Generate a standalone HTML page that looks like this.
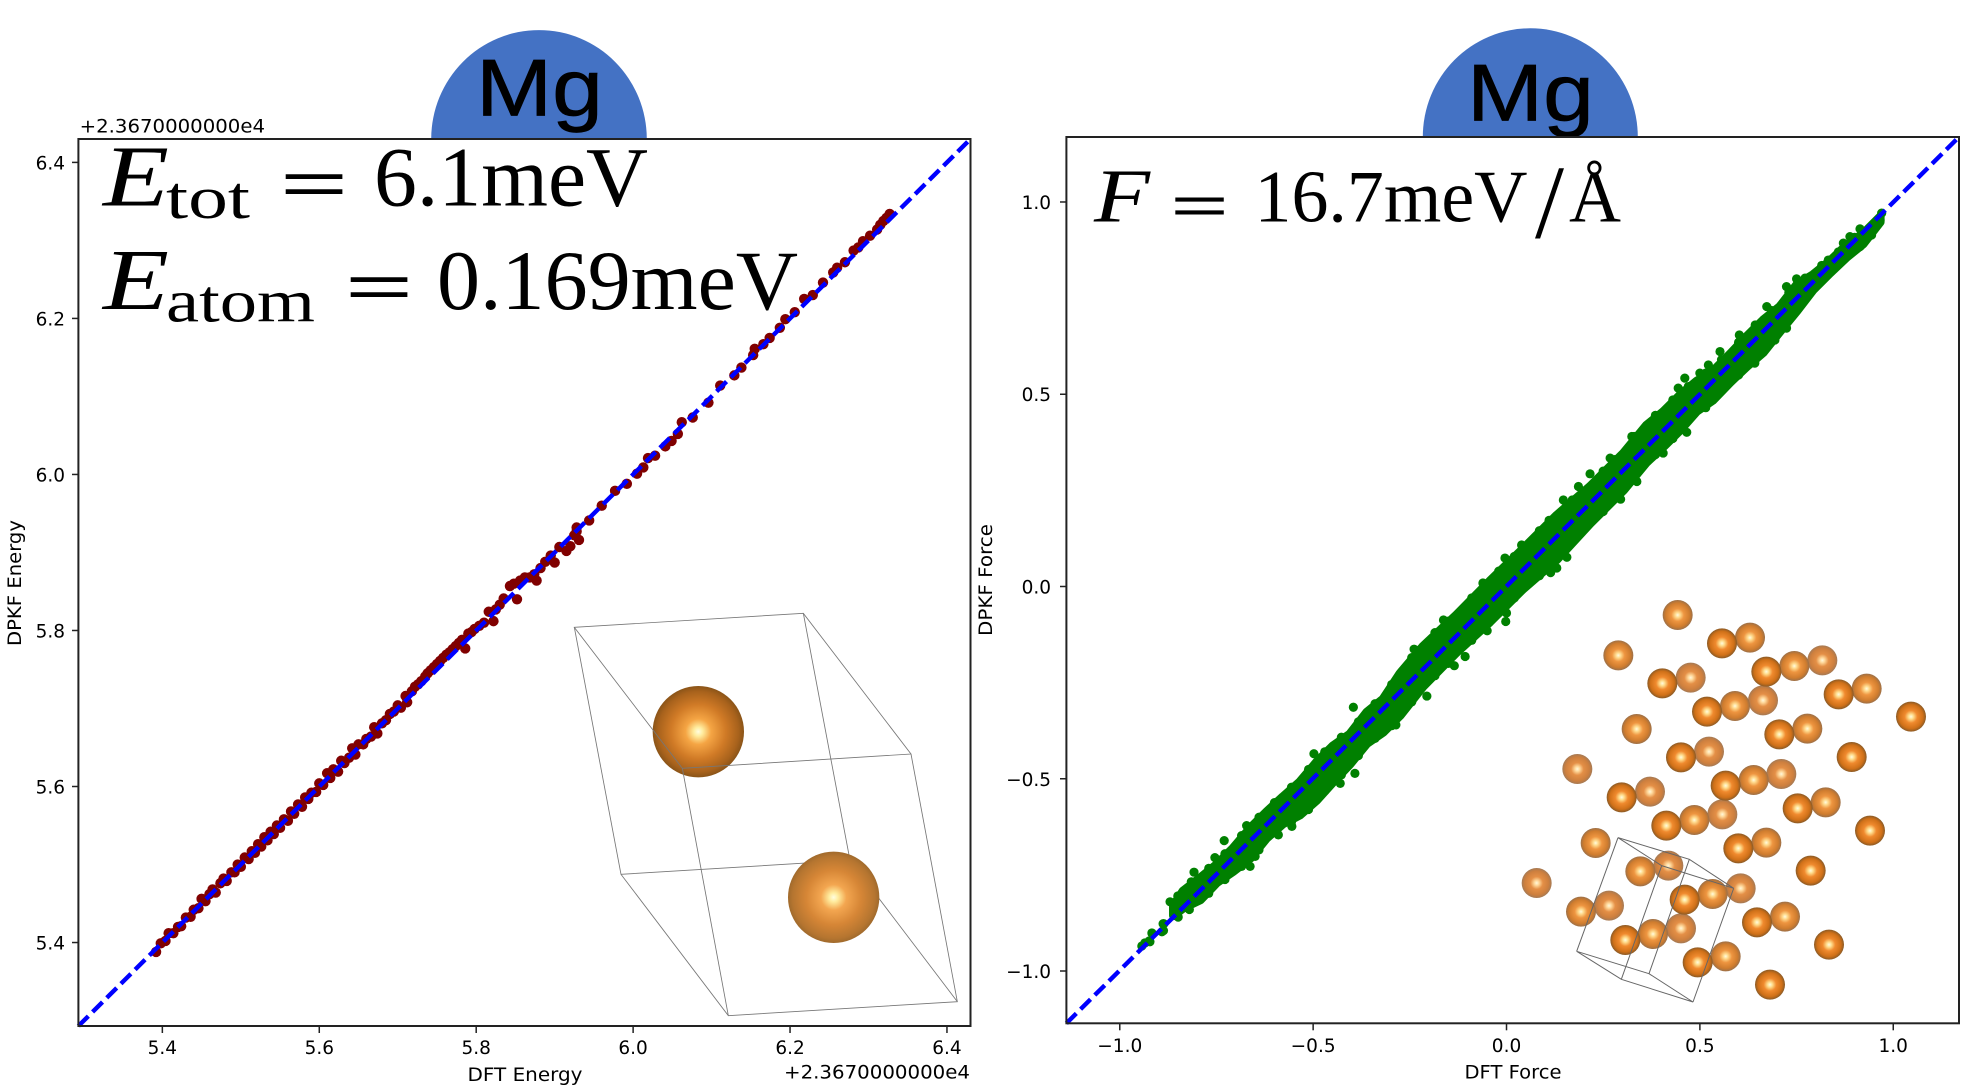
<!DOCTYPE html>
<html lang="en">
<head>
<meta charset="utf-8">
<title>Mg DPKF parity plots</title>
<style>
html,body{margin:0;padding:0;background:#fff;}
svg{display:block;}
.tick{font-family:"DejaVu Sans",sans-serif;font-size:18.5px;fill:#000;}
.math{font-family:"Liberation Serif",serif;fill:#000;}
.eq{stroke:#000;stroke-width:.9;}
.mg{font-family:"Liberation Sans",sans-serif;font-size:81px;fill:#000;stroke:#000;stroke-width:.7;}
</style>
</head>
<body>
<svg id="figure" xmlns="http://www.w3.org/2000/svg" width="1966" height="1087" viewBox="0 0 1966 1087">
<defs>
<radialGradient id="big1"><stop offset="0" stop-color="#fffde0"/><stop offset=".1" stop-color="#ffec9e"/><stop offset=".28" stop-color="#f5a544"/><stop offset=".6" stop-color="#d07a26"/><stop offset=".88" stop-color="#a8621c"/><stop offset="1" stop-color="#8a5418"/></radialGradient>
<radialGradient id="big2"><stop offset="0" stop-color="#fffde0"/><stop offset=".1" stop-color="#ffec9e"/><stop offset=".28" stop-color="#f3a650"/><stop offset=".6" stop-color="#d68636"/><stop offset=".9" stop-color="#b57530"/><stop offset="1" stop-color="#a06a2c"/></radialGradient>
<radialGradient id="dark"><stop offset="0" stop-color="#fffbe0"/><stop offset=".16" stop-color="#ffdf90"/><stop offset=".42" stop-color="#f08a2e"/><stop offset=".8" stop-color="#cf7018"/><stop offset="1" stop-color="#8a5a26"/></radialGradient>
<radialGradient id="mid"><stop offset="0" stop-color="#fffbe0"/><stop offset=".16" stop-color="#ffdc90"/><stop offset=".42" stop-color="#ee9540"/><stop offset=".8" stop-color="#cf7c2e"/><stop offset="1" stop-color="#9c7048"/></radialGradient>
<radialGradient id="light"><stop offset="0" stop-color="#fff8dc"/><stop offset=".16" stop-color="#ffd99c"/><stop offset=".42" stop-color="#e48f46"/><stop offset=".8" stop-color="#cd7f3e"/><stop offset="1" stop-color="#a57a55"/></radialGradient>
</defs>

<rect width="1966" height="1087" fill="#fff"/>

<!-- Mg badges -->
<path d="M431.2 139A107.8 109 0 0 1 646.8 139Z" fill="#4472c4"/>
<text class="mg" x="476" y="115.7" textLength="127" lengthAdjust="spacingAndGlyphs">Mg</text>
<path d="M1422.8 137A107.5 108.7 0 0 1 1637.8 137Z" fill="#4472c4"/>
<text class="mg" x="1467" y="120.7" textLength="127" lengthAdjust="spacingAndGlyphs">Mg</text>

<!-- Left axes -->
<g id="energy-chart">
<rect x="78.4" y="139" width="892.1" height="887" fill="#fff"/>
<g id="energy-inset" transform="translate(550 590) scale(.33333)" fill="none" stroke="#777" stroke-width="2.6">
<path d="M760 70L900 811M213 853L900 811M900 811L1222 1235"/>
<circle cx="445" cy="425" r="137" fill="url(#big1)" stroke="none"/>
<circle cx="851" cy="922" r="137" fill="url(#big2)" stroke="none"/>
<path d="M73 112L760 70L1083 492L397 535ZM73 112L213 853L535 1277L1222 1235L1083 492M397 535L535 1277"/>
</g>
<g id="energy-points"></g>
<g id="energy-diagonal"></g>
<rect x="78.4" y="139" width="892.1" height="887" fill="none" stroke="#222" stroke-width="2"/>
<g id="energy-ticks"></g>
<text class="tick" x="467.5" y="1081" textLength="115" lengthAdjust="spacingAndGlyphs">DFT Energy</text>
<text class="tick" transform="translate(21 646) rotate(-90)" textLength="126" lengthAdjust="spacingAndGlyphs">DPKF Energy</text>
<text class="tick" x="79.6" y="132.7" textLength="185.4" lengthAdjust="spacingAndGlyphs">+2.3670000000e4</text>
<text class="tick" x="784" y="1078.7" textLength="186" lengthAdjust="spacingAndGlyphs">+2.3670000000e4</text>
<g>
<text class="math" x="103" y="205.7" font-size="87" font-style="italic" textLength="66" lengthAdjust="spacingAndGlyphs">E</text>
<text class="math" x="166" y="218" font-size="60" textLength="84" lengthAdjust="spacingAndGlyphs">tot</text>
<text class="math eq" x="280.5" y="209" font-size="75" textLength="67" lengthAdjust="spacingAndGlyphs">=</text>
<text class="math" x="374" y="205.7" font-size="85" textLength="274" lengthAdjust="spacingAndGlyphs">6.1meV</text>
<text class="math" x="103" y="309" font-size="87" font-style="italic" textLength="66" lengthAdjust="spacingAndGlyphs">E</text>
<text class="math" x="166" y="321.7" font-size="60" textLength="149" lengthAdjust="spacingAndGlyphs">atom</text>
<text class="math eq" x="345.5" y="312" font-size="75" textLength="67" lengthAdjust="spacingAndGlyphs">=</text>
<text class="math" x="437" y="309" font-size="85" textLength="361" lengthAdjust="spacingAndGlyphs">0.169meV</text>
</g>
</g>

<!-- Right axes -->
<g id="force-chart">
<rect x="1066.4" y="137" width="892.6" height="886.3" fill="#fff"/>
<g id="force-inset" transform="translate(1480 580) scale(.33333)" stroke="none">
<g fill="url(#light)">
<circle cx="632" cy="293" r="45"/><circle cx="1027" cy="241" r="45"/><circle cx="849" cy="361" r="45"/><circle cx="687" cy="515" r="45"/><circle cx="292" cy="567" r="45"/><circle cx="904" cy="582" r="45"/><circle cx="510" cy="635" r="45"/><circle cx="727" cy="703" r="45"/><circle cx="565" cy="857" r="45"/><circle cx="170" cy="909" r="45"/><circle cx="782" cy="925" r="45"/><circle cx="387" cy="977" r="45"/><circle cx="603" cy="1045" r="45"/>
</g>
<g fill="url(#mid)">
<circle cx="593" cy="105" r="45"/><circle cx="810" cy="173" r="45"/><circle cx="415" cy="226" r="45"/><circle cx="943" cy="258" r="45"/><circle cx="765" cy="378" r="45"/><circle cx="1160" cy="326" r="45"/><circle cx="470" cy="447" r="45"/><circle cx="982" cy="446" r="45"/><circle cx="821" cy="600" r="45"/><circle cx="1037" cy="667" r="45"/><circle cx="643" cy="720" r="45"/><circle cx="347" cy="789" r="45"/><circle cx="859" cy="788" r="45"/><circle cx="481" cy="874" r="45"/><circle cx="698" cy="942" r="45"/><circle cx="303" cy="995" r="45"/><circle cx="915" cy="1010" r="45"/><circle cx="519" cy="1062" r="45"/><circle cx="737" cy="1129" r="45"/>
</g>
<g fill="url(#dark)">
<circle cx="726" cy="190" r="45"/><circle cx="547" cy="310" r="45"/><circle cx="859" cy="275" r="45"/><circle cx="681" cy="395" r="45"/><circle cx="1076" cy="343" r="45"/><circle cx="1293" cy="410" r="45"/><circle cx="898" cy="463" r="45"/><circle cx="603" cy="532" r="45"/><circle cx="1115" cy="531" r="45"/><circle cx="737" cy="617" r="45"/><circle cx="425" cy="652" r="45"/><circle cx="953" cy="685" r="45"/><circle cx="559" cy="737" r="45"/><circle cx="1170" cy="752" r="45"/><circle cx="775" cy="805" r="45"/><circle cx="992" cy="872" r="45"/><circle cx="614" cy="959" r="45"/><circle cx="831" cy="1027" r="45"/><circle cx="436" cy="1080" r="45"/><circle cx="1047" cy="1094" r="45"/><circle cx="653" cy="1147" r="45"/><circle cx="870" cy="1214" r="45"/>
</g>
<path fill="none" stroke="#666" stroke-width="3" d="M414 773L628 838L761 925L545 857ZM290 1114L507 1181L639 1266L424 1198ZM414 773L290 1114M628 838L507 1181M761 925L639 1266M545 857L424 1198"/>
</g>
<g id="force-band"></g>
<g id="force-points"></g>
<g id="force-diagonal"></g>
<rect x="1066.4" y="137" width="892.6" height="886.3" fill="none" stroke="#222" stroke-width="2"/>
<g id="force-ticks"></g>
<text class="tick" x="1464.5" y="1078.7" textLength="97" lengthAdjust="spacingAndGlyphs">DFT Force</text>
<text class="tick" transform="translate(992 636) rotate(-90)" textLength="112" lengthAdjust="spacingAndGlyphs">DPKF Force</text>
<g>
<text class="math" x="1094" y="221.7" font-size="76" font-style="italic" textLength="56" lengthAdjust="spacingAndGlyphs">F</text>
<text class="math eq" x="1171" y="227" font-size="64" textLength="57" lengthAdjust="spacingAndGlyphs">=</text>
<text class="math" x="1254.5" y="221.7" font-size="74" textLength="273" lengthAdjust="spacingAndGlyphs">16.7meV</text>
<text class="math" x="1535" y="237.5" font-size="105" textLength="29" lengthAdjust="spacingAndGlyphs">/</text>
<text class="math" x="1569" y="221.7" font-size="74" textLength="52" lengthAdjust="spacingAndGlyphs">Å</text>
</g>
</g>

<script>
// Energy parity data (DFT, DPKF), offset by 2.3670000000e4
const energyDft = [5.392,5.398,5.404,5.408,5.414,5.420,5.424,5.430,5.436,5.440,5.446,5.450,5.455,5.460,5.464,5.468,5.474,5.478,5.482,5.488,5.492,5.496,5.500,5.505,5.510,5.514,5.518,5.522,5.526,5.530,5.534,5.538,5.542,5.546,5.550,5.555,5.560,5.564,5.568,5.573,5.578,5.582,5.586,5.590,5.596,5.600,5.605,5.610,5.614,5.618,5.624,5.628,5.632,5.638,5.642,5.646,5.650,5.656,5.660,5.666,5.670,5.674,5.680,5.685,5.690,5.695,5.700,5.704,5.710,5.712,5.718,5.722,5.726,5.730,5.735,5.738,5.742,5.746,5.750,5.754,5.758,5.762,5.766,5.770,5.774,5.778,5.782,5.786,5.790,5.794,5.798,5.804,5.810,5.816,5.822,5.825,5.830,5.835,5.843,5.848,5.852,5.856,5.862,5.868,5.874,5.877,5.882,5.888,5.895,5.900,5.906,5.915,5.920,5.925,5.928,5.931,5.928,5.944,5.960,5.977,5.992,6.005,6.013,6.019,6.028,6.041,6.049,6.057,6.062,6.076,6.096,6.111,6.129,6.138,6.153,6.155,6.166,6.174,6.187,6.194,6.206,6.218,6.229,6.242,6.255,6.260,6.270,6.281,6.287,6.293,6.302,6.311,6.315,6.319,6.323,6.327];
const energyDpkf = [5.388,5.399,5.402,5.412,5.412,5.420,5.421,5.432,5.433,5.442,5.444,5.456,5.453,5.462,5.468,5.464,5.476,5.482,5.479,5.490,5.490,5.500,5.497,5.509,5.507,5.517,5.515,5.526,5.523,5.535,5.531,5.542,5.539,5.550,5.547,5.558,5.556,5.568,5.565,5.577,5.574,5.586,5.584,5.592,5.593,5.604,5.602,5.617,5.611,5.622,5.619,5.633,5.630,5.637,5.649,5.641,5.654,5.654,5.661,5.664,5.676,5.668,5.681,5.685,5.693,5.696,5.704,5.701,5.716,5.708,5.722,5.728,5.731,5.735,5.741,5.745,5.749,5.753,5.757,5.761,5.765,5.769,5.772,5.776,5.780,5.784,5.788,5.777,5.796,5.798,5.802,5.806,5.810,5.824,5.812,5.827,5.833,5.841,5.857,5.860,5.840,5.864,5.868,5.868,5.872,5.864,5.880,5.888,5.896,5.887,5.907,5.902,5.908,5.922,5.927,5.916,5.932,5.941,5.960,5.979,5.988,6.001,6.009,6.021,6.024,6.036,6.043,6.052,6.067,6.073,6.092,6.114,6.127,6.137,6.153,6.161,6.167,6.175,6.188,6.199,6.208,6.225,6.230,6.246,6.259,6.265,6.272,6.287,6.291,6.299,6.306,6.314,6.320,6.325,6.329,6.334];
const energyTicks = [5.4,5.6,5.8,6.0,6.2,6.4];
const energyTickLabels = ["5.4","5.6","5.8","6.0","6.2","6.4"];
const energyLimits = [5.293,6.430];

// Force parity data: outer envelope of the dense cloud
const forceBandX = [-.861,-.836,-.792,-.749,-.707,-.663,-.62,-.578,-.534,-.491,-.449,-.405,-.361,-.319,-.275,-.216,-.129,-.043,.043,.13,.216,.302,.362,.405,.449,.492,.534,.578,.621,.664,.707,.751,.793,.837,.88,.922,.966];
const forceBandUpper = [-.830,-.792,-.758,-.723,-.681,-.629,-.586,-.547,-.508,-.457,-.415,-.384,-.327,-.293,-.226,-.156,-.074,.014,.098,.185,.260,.346,.419,.454,.498,.534,.560,.604,.650,.693,.728,.785,.811,.847,.888,.917,.961];
const forceBandLower = [-.856,-.836,-.815,-.770,-.741,-.707,-.654,-.617,-.594,-.556,-.509,-.462,-.408,-.379,-.335,-.260,-.171,-.092,-.006,.070,.164,.250,.323,.363,.407,.456,.485,.531,.572,.609,.663,.717,.772,.816,.857,.891,.948];
// Force parity data: individually visible points, then points along the cloud's fringe
const forceDft = [-.943,-.935,-.924,-.922,-.917,-.916,-.891,-.888,-.887,-.886,-.870,-.849,-.808,-.754,-.730,-.672,-.663,-.650,-.590,-.555,-.498,-.430,-.396,-.392,-.286,-.239,-.206,-.163,-.135,-.107,-.061,-.050,-.004,-.002,0,.039,.114,.130,.147,.156,.186,.216,.268,.295,.324,.337,.405,.444,.461,.466,.500,.522,.552,.602,.642,.664,.673,.694,.724,.724,.750,.832,.871,.888,.914,.914,.944,.966,.970,
-.85,-.815,-.77,-.728,-.685,-.64,-.60,-.556,-.512,-.47,-.427,-.383,-.34,-.297,-.245,-.185,-.15,-.09,-.02,.02,.085,.11,.17,.25,.28,.33,.385,.43,.47,.515,.556,.60,.643,.685,.73,.772,.815,.858,.90,
-.82,-.77,-.728,-.685,-.64,-.60,-.556,-.512,-.47,-.427,-.383,-.34,-.297,-.245,-.185,-.15,-.09,-.02,.02,.085,.11,.17,.25,.28,.33,.385,.43,.47,.515,.556,.60,.643,.685,.73,.772,.815,.858,.90];
const forcePred = [-.935,-.927,-.922,-.924,-.901,-.903,-.898,-.877,-.895,-.877,-.820,-.860,-.743,-.705,-.661,-.622,-.728,-.702,-.646,-.624,-.435,-.512,-.314,-.486,-.360,-.163,-.285,-.087,-.206,-.182,.009,-.115,.074,-.091,-.069,.108,.036,.048,.225,.076,.260,.293,.334,.227,.390,.273,.347,.516,.542,.401,.555,.576,.611,.654,.581,.613,.728,.641,.780,.672,.800,.849,.893,.910,.884,.930,.914,.953,.971,
-.805,-.768,-.733,-.695,-.648,-.600,-.562,-.522,-.476,-.430,-.392,-.352,-.305,-.255,-.185,-.120,-.090,-.030,.040,.078,.145,.172,.225,.300,.330,.390,.445,.485,.520,.555,.590,.635,.680,.718,.765,.802,.835,.870,.908,
-.840,-.798,-.762,-.728,-.685,-.640,-.612,-.580,-.532,-.490,-.440,-.395,-.362,-.300,-.232,-.200,-.140,-.068,-.030,.028,.055,.120,.195,.232,.290,.343,.385,.432,.465,.510,.550,.590,.640,.695,.748,.800,.838,.875];
const forceTicks = [-1,-.5,0,.5,1];
const forceTickLabels = ["\u22121.0","\u22120.5","0.0","0.5","1.0"];
const forceLimitsX = [-1.138,1.170];
const forceLimitsY = [-1.136,1.169];

const SVGNS = 'http://www.w3.org/2000/svg';
function scale(d0,d1,r0,r1){return function(v){return r0+(v-d0)/(d1-d0)*(r1-r0);};}
function mk(tag,attrs,parent){
  const e=document.createElementNS(SVGNS,tag);
  for(const k in attrs){e.setAttribute(k,attrs[k]);}
  parent.appendChild(e);
  return e;
}

const xE = scale(energyLimits[0],energyLimits[1],78.4,970.5);
const yE = scale(energyLimits[0],energyLimits[1],1026,139);
const xF = scale(forceLimitsX[0],forceLimitsX[1],1066.4,1959);
const yF = scale(forceLimitsY[0],forceLimitsY[1],1023.3,137);

// Energy scatter
const energyGroup = document.getElementById('energy-points');
energyDft.forEach(function(v,i){
  const dot = mk('circle',{cx:xE(v),cy:yE(energyDpkf[i]),r:5.2,fill:'#800000'},energyGroup);
  
  
});

// Force dense band
const bandTop = forceBandX.map(function(v,i){return xF(v)+','+yF(forceBandUpper[i]);});
const bandBottom = forceBandX.map(function(v,i){return xF(v)+','+yF(forceBandLower[i]);}).reverse();
const band = mk('polygon',{points:bandTop.concat(bandBottom).join(' '),fill:'#008000',stroke:'#008000','stroke-width':9,'stroke-linejoin':'round'},document.getElementById('force-band'));



// Force scatter
const forceGroup = document.getElementById('force-points');
forceDft.forEach(function(v,i){
  const dot = mk('circle',{cx:xF(v),cy:yF(forcePred[i]),r:4.6,fill:'#008000'},forceGroup);
  
  
});

// Diagonals
const lineE = mk('line',{x1:xE(energyLimits[0]),y1:yE(energyLimits[0]),x2:xE(energyLimits[1]),y2:yE(energyLimits[1]),stroke:'#0000ff','stroke-width':4.4,'stroke-dasharray':'14 6'},document.getElementById('energy-diagonal'));


const lineF = mk('line',{x1:xF(forceLimitsX[0]),y1:yF(forceLimitsY[0]),x2:xF(forceLimitsX[1]),y2:yF(forceLimitsY[1]),stroke:'#0000ff','stroke-width':4.4,'stroke-dasharray':'14 6'},document.getElementById('force-diagonal'));



// Energy ticks
const energyTickGroup = document.getElementById('energy-ticks');
energyTicks.forEach(function(v,i){
  const tx = mk('line',{x1:xE(v),x2:xE(v),y1:1026,y2:1033,stroke:'#222','stroke-width':1.5},energyTickGroup);
  
  
  const lx = mk('text',{x:xE(v),y:1054,'text-anchor':'middle','class':'tick'},energyTickGroup);
  
  
  lx.textContent = energyTickLabels[i];
  const ty = mk('line',{x1:72,x2:78.4,y1:yE(v),y2:yE(v),stroke:'#222','stroke-width':1.5},energyTickGroup);
  
  
  const ly = mk('text',{x:65,y:yE(v)+7,'text-anchor':'end','class':'tick'},energyTickGroup);
  
  
  ly.textContent = energyTickLabels[i];
});

// Force ticks
const forceTickGroup = document.getElementById('force-ticks');
forceTicks.forEach(function(v,i){
  const tx = mk('line',{x1:xF(v),x2:xF(v),y1:1023.3,y2:1030.3,stroke:'#222','stroke-width':1.5},forceTickGroup);
  
  
  const lx = mk('text',{x:xF(v),y:1052,'text-anchor':'middle','class':'tick'},forceTickGroup);
  
  
  lx.textContent = forceTickLabels[i];
  const ty = mk('line',{x1:1060,x2:1066.4,y1:yF(v),y2:yF(v),stroke:'#222','stroke-width':1.5},forceTickGroup);
  
  
  const ly = mk('text',{x:1051,y:yF(v)+7,'text-anchor':'end','class':'tick'},forceTickGroup);
  
  
  ly.textContent = forceTickLabels[i];
});
</script>
</svg>
</body>
</html>
